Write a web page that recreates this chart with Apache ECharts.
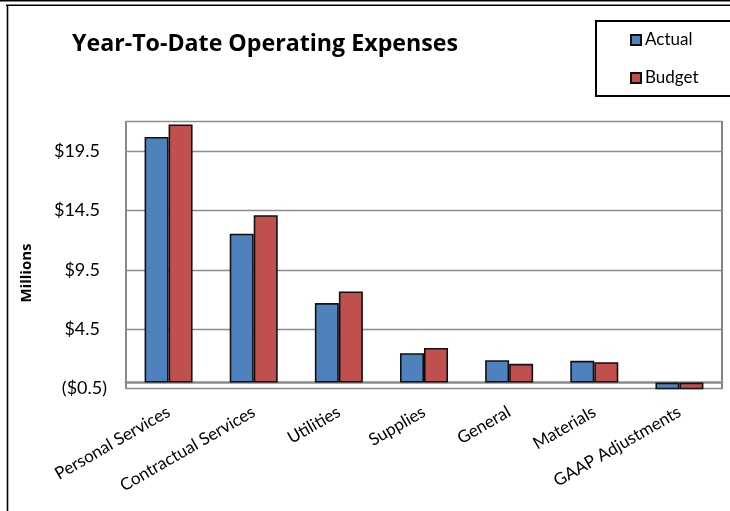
<!DOCTYPE html>
<html>
<head>
<meta charset="utf-8">
<script src="https://cdn.jsdelivr.net/npm/echarts@6/dist/echarts.min.js"></script>
<style>
html,body{margin:0;padding:0;background:#fff;}
#chart{width:730px;height:511px;}
</style>
</head>
<body>
<div id="chart"></div>
<script>
const categories = ["Personal Services", "Contractual Services", "Utilities", "Supplies", "General", "Materials", "GAAP Adjustments"];
const actual = [20.7, 12.55, 6.7, 2.48, 1.88, 1.83, -0.6];
const budget = [21.75, 14.1, 7.68, 2.92, 1.58, 1.72, -0.6];
const seriesNames = ["Actual", "Budget"];
const yMin = -0.5, yMax = 22, yStep = 5;

const FONT = 'Lato';
const chart = echarts.init(document.getElementById('chart'), null, {renderer: 'canvas'});

function fmt(v) {
  if (v > yMax - 0.01) return '';
  if (v < 0) return '($' + Math.abs(v).toFixed(1) + ')';
  return '{p|$' + v.toFixed(1) + '}';
}

chart.setOption({
  animation: false,
  backgroundColor: '#fff',
  title: {
    text: 'Year-To-Date Operating Expenses',
    left: 72, top: 33,
    padding: 0,
    textStyle: {fontFamily: 'Open Sans', fontWeight: 'bold', fontSize: 23.2, color: '#000'}
  },
  legend: {
    data: seriesNames,
    orient: 'vertical',
    left: 596, top: 21,
    padding: [9, 34, 8, 34],
    itemGap: 18,
    itemWidth: 10, itemHeight: 10,
    icon: 'rect',
    borderColor: '#000', borderWidth: 2,
    textStyle: {fontFamily: FONT, fontSize: 17, color: '#000', lineHeight: 20, padding: [0,0,0,-1]}
  },
  grid: {
    left: 126, right: 8, top: 121.5, bottom: 122.5,
    show: true, borderColor: '#333', borderWidth: 1.2,
    containLabel: false
  },
  xAxis: {
    type: 'category',
    data: categories,
    axisLine: {show: true, onZero: true, lineStyle: {color: '#8c8c8c', width: 2.5}},
    axisTick: {show: false},
    axisLabel: {rotate: 30, margin: 22, interval: 0, fontFamily: FONT, fontSize: 17, color: '#000'},
    splitLine: {show: false}
  },
  yAxis: {
    type: 'value',
    min: yMin, max: yMax, interval: yStep,
    axisLine: {show: true, lineStyle: {color: '#8c8c8c', width: 1.5}},
    axisTick: {show: false},
    splitLine: {show: true, lineStyle: {color: '#8c8c8c', width: 1.3}},
    axisLabel: {
      formatter: fmt, margin: 19, fontFamily: FONT, fontSize: 18, color: '#000',
      showMaxLabel: false,
      rich: {p: {fontFamily: FONT, fontSize: 18, color: '#000', padding: [0, 7, 0, 0]}}
    }
  },
  graphic: [
    {type: 'line', shape: {x1: 0, y1: 0.8, x2: 730, y2: 0.8}, style: {stroke: '#000', lineWidth: 1.6}, silent: true},
    {type: 'line', shape: {x1: 6, y1: 5.2, x2: 730, y2: 5.2}, style: {stroke: '#000', lineWidth: 1.6}, silent: true},
    {type: 'line', shape: {x1: 7.5, y1: 5, x2: 7.5, y2: 511}, style: {stroke: '#000', lineWidth: 1.6}, silent: true},
    {type: 'text', x: 27, y: 273, rotation: Math.PI / 2,
      style: {text: 'Millions', fontFamily: 'Open Sans', fontWeight: 'bold', fontSize: 15, fill: '#000', align: 'center', verticalAlign: 'middle'}}
  ],
  series: [
    {name: seriesNames[0], type: 'bar', data: actual, barWidth: 24, barGap: '0%', clip: true,
      itemStyle: {color: '#4F81BD', borderColor: '#111', borderWidth: 1.6}},
    {name: seriesNames[1], type: 'bar', data: budget, barWidth: 24, barGap: '0%', clip: true,
      itemStyle: {color: '#C0504D', borderColor: '#111', borderWidth: 1.6}}
  ]
});
</script>
</body>
</html>
